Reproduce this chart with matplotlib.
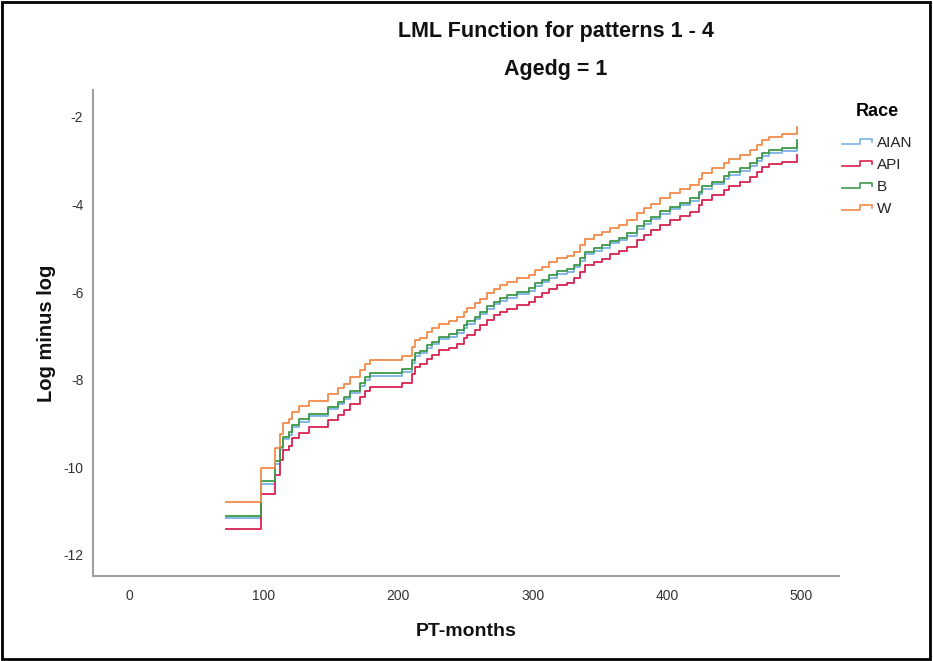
import matplotlib
matplotlib.use("Agg")
import matplotlib.pyplot as plt
from matplotlib.lines import Line2D
from matplotlib.legend_handler import HandlerBase
from matplotlib.patches import Rectangle

plt.rcParams['font.family'] = ['Liberation Sans', 'DejaVu Sans']

# ---- data ----
times = [72, 98, 108.6, 112.4, 114.3, 118.5, 121, 126, 133.4, 147.5,
         155, 159.4, 164.4, 171.9, 175.6, 179.3, 202.9, 210.3, 212.8, 216.5,
         221.5, 225.2, 230.2, 237.6, 243.8, 248.8, 251.3, 257.4, 261.2, 266.1,
         271, 276, 281, 288.5, 297.1, 302, 307, 312, 318.2, 325.7,
         330.6, 335.6, 339.3, 345.5, 351.7, 357.9, 364.1, 370.3, 378, 383,
         388, 395, 402.5, 410, 417.4, 423.6, 426, 433.5, 442.2, 446,
         454.6, 462, 467, 470.8, 475.7, 485.6, 496.8]

lml_W = [-10.80, -10.01, -9.56, -9.23, -9.00, -8.90, -8.73, -8.60, -8.48, -8.32,
         -8.20, -8.09, -7.95, -7.78, -7.65, -7.55, -7.46, -7.25, -7.10, -7.04,
         -6.91, -6.83, -6.72, -6.66, -6.57, -6.45, -6.37, -6.26, -6.15, -6.03,
         -5.92, -5.84, -5.77, -5.69, -5.61, -5.50, -5.42, -5.31, -5.23, -5.18,
         -5.08, -4.93, -4.78, -4.70, -4.63, -4.53, -4.46, -4.36, -4.20, -4.08,
         -3.98, -3.86, -3.75, -3.66, -3.56, -3.41, -3.28, -3.18, -3.06, -2.97,
         -2.87, -2.76, -2.65, -2.53, -2.47, -2.40, -2.24]

lml_B = [-11.10, -10.31, -9.86, -9.53, -9.30, -9.20, -9.03, -8.90, -8.78, -8.62,
         -8.50, -8.39, -8.25, -8.08, -7.95, -7.85, -7.76, -7.55, -7.40, -7.34,
         -7.21, -7.13, -7.02, -6.96, -6.87, -6.75, -6.67, -6.56, -6.45, -6.33,
         -6.22, -6.14, -6.07, -5.99, -5.91, -5.80, -5.72, -5.61, -5.53, -5.48,
         -5.38, -5.23, -5.08, -5.00, -4.93, -4.83, -4.76, -4.66, -4.50, -4.38,
         -4.28, -4.16, -4.05, -3.96, -3.86, -3.71, -3.58, -3.48, -3.36, -3.27,
         -3.17, -3.06, -2.95, -2.83, -2.77, -2.71, -2.54]

lml_AIAN = [-11.16, -10.37, -9.92, -9.59, -9.36, -9.26, -9.09, -8.96, -8.84, -8.68,
            -8.56, -8.45, -8.31, -8.14, -8.01, -7.91, -7.82, -7.61, -7.46, -7.40,
            -7.27, -7.19, -7.08, -7.02, -6.93, -6.81, -6.73, -6.62, -6.51, -6.39,
            -6.28, -6.20, -6.13, -6.05, -5.97, -5.86, -5.78, -5.67, -5.59, -5.54,
            -5.44, -5.29, -5.14, -5.06, -4.99, -4.89, -4.82, -4.72, -4.56, -4.44,
            -4.34, -4.22, -4.11, -4.02, -3.92, -3.77, -3.64, -3.54, -3.42, -3.33,
            -3.23, -3.12, -3.01, -2.89, -2.83, -2.78, -2.62]

lml_API = [-11.41, -10.62, -10.17, -9.84, -9.61, -9.51, -9.34, -9.21, -9.09, -8.93,
           -8.81, -8.70, -8.56, -8.39, -8.26, -8.16, -8.07, -7.86, -7.71, -7.65,
           -7.52, -7.44, -7.33, -7.27, -7.18, -7.06, -6.98, -6.87, -6.76, -6.64,
           -6.53, -6.45, -6.38, -6.30, -6.22, -6.11, -6.03, -5.92, -5.84, -5.79,
           -5.69, -5.54, -5.39, -5.31, -5.24, -5.14, -5.07, -4.97, -4.81, -4.69,
           -4.59, -4.47, -4.36, -4.27, -4.17, -4.02, -3.89, -3.79, -3.67, -3.58,
           -3.48, -3.37, -3.26, -3.14, -3.08, -3.03, -2.87]

races = ['AIAN', 'API', 'B', 'W']
series = [lml_AIAN, lml_API, lml_B, lml_W]
colors = ['#7cb1e6', '#d7234f', '#3d9a48', '#f38a4b']

x_ticks = [0, 100, 200, 300, 400, 500]
y_ticks = [-12, -10, -8, -6, -4, -2]

# ---- figure ----
W_PX, H_PX = 933, 661
fig = plt.figure(figsize=(W_PX / 100, H_PX / 100), dpi=100)
fig.patch.set_facecolor('white')

ax = fig.add_axes([93 / W_PX, 1 - 576 / H_PX, (839 - 93) / W_PX, (576 - 90) / H_PX])

for name, vals, c in zip(races, series, colors):
    ax.step(times, vals, where='post', color=c, lw=1.3, label=name)

ax.set_xlim(-27, 528)
ax.set_ylim(-12.48, -1.39)
ax.set_xticks(x_ticks)
ax.set_yticks(y_ticks)
ax.set_xticklabels([str(v) for v in x_ticks])
ax.set_yticklabels([str(v) for v in y_ticks])
ax.tick_params(axis='both', length=0, labelsize=10, labelcolor='#333333')
ax.tick_params(axis='x', pad=9)
ax.tick_params(axis='y', pad=7)
for s in ['top', 'right']:
    ax.spines[s].set_visible(False)
for s in ['left', 'bottom']:
    ax.spines[s].set_color('#a0a0a0')
    ax.spines[s].set_linewidth(1.5)

# titles and axis labels
title_family = ['Liberation Sans Narrow', 'Liberation Sans', 'DejaVu Sans']
fig.text(556 / W_PX, 1 - 31 / H_PX, 'LML Function for patterns 1 - 4', ha='center', va='center',
         fontsize=15.5, fontweight='bold', color='#111111', family=title_family)
fig.text(556 / W_PX, 1 - 69 / H_PX, 'Agedg = 1', ha='center', va='center',
         fontsize=15.5, fontweight='bold', color='#111111', family=title_family)
fig.text(46 / W_PX, 1 - 333 / H_PX, 'Log minus log', ha='center', va='center', rotation=90,
         fontsize=14.5, fontweight='bold', color='#111111')
fig.text(466 / W_PX, 1 - 631 / H_PX, 'PT-months', ha='center', va='center',
         fontsize=14, fontweight='bold', color='#111111')


class StepHandler(HandlerBase):
    def create_artists(self, legend, orig_handle, xdescent, ydescent, width, height,
                       fontsize, trans):
        x0 = -xdescent
        y0 = -ydescent
        xs = [x0, x0 + 0.58 * width, x0 + 0.58 * width, x0 + 0.97 * width, x0 + 0.97 * width]
        ys = [y0 + 0.25 * height, y0 + 0.25 * height, y0 + 0.75 * height,
              y0 + 0.75 * height, y0 + 0.45 * height]
        ln = Line2D(xs, ys, color=orig_handle.get_color(), lw=1.2, transform=trans)
        return [ln]


handles, labels = ax.get_legend_handles_labels()
leg = ax.legend(handles, labels, handler_map={Line2D: StepHandler()},
                loc='upper left', bbox_to_anchor=(842 / W_PX, 1 - 103 / H_PX),
                bbox_transform=fig.transFigure, frameon=False, fontsize=11,
                title='Race', handlelength=2.0, handletextpad=0.3,
                labelspacing=0.52, borderaxespad=0, borderpad=0)
leg.get_title().set_fontweight('bold')
leg.get_title().set_fontsize(13)
leg._legend_box.align = 'center'
leg._legend_box.sep = 11.5
for t in leg.get_texts():
    t.set_color('#222222')

# outer frame
fig.patches.append(Rectangle((0.002, 0.003), 0.995, 0.994, transform=fig.transFigure,
                             fill=False, edgecolor='black', lw=2))

fig.savefig('out.png', dpi=100, facecolor='white')
